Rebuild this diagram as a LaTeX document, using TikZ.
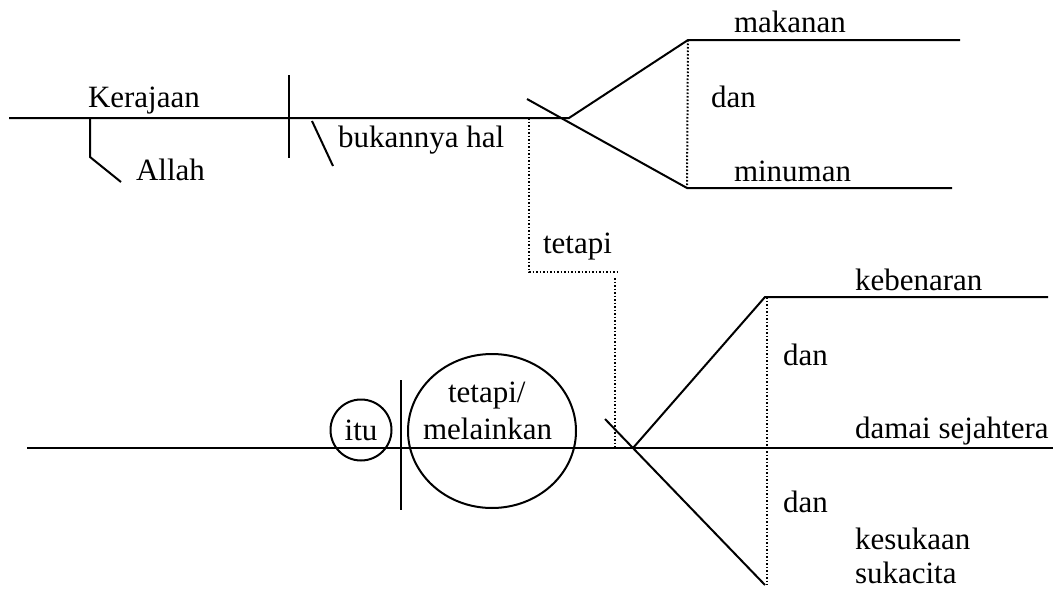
\documentclass[tikz,border=0pt]{standalone}
\usepackage{fontspec}
\setmainfont{Liberation Serif}
\usetikzlibrary{shapes.geometric}
\begin{document}
\begin{tikzpicture}[x=1pt,y=-1pt,line width=2pt,
  lbl/.style={font=\fontsize{31}{35}\selectfont, anchor=base west, inner sep=0pt},
  dotline/.style={line width=2pt, dash pattern=on 1.6pt off 1.9pt}]
\useasboundingbox (0,0) rectangle (1058,589);
% --- top clause ---
\coordinate (L1s) at (9,118);
\coordinate (J1) at (569,118);
\coordinate (U1) at (688,40);
\coordinate (U1e) at (960,40);
\coordinate (X1s) at (527,99);
\coordinate (D1) at (687,188);
\coordinate (D1e) at (952,188);
\coordinate (V1t) at (289,75);
\coordinate (V1b) at (289,158);
\coordinate (A1) at (90,118);
\coordinate (A2) at (90,157);
\coordinate (A3) at (121,182);
\coordinate (B1) at (312,121);
\coordinate (B2) at (333,166);
\draw (L1s) -- (J1) -- (U1) -- (U1e);
\draw (X1s) -- (D1) -- (D1e);
\draw[dotline] (U1) -- (D1);
\draw (V1t) -- (V1b);
\draw (A1) -- (A2) -- (A3);
\draw (B1) -- (B2);
\node[lbl] (kerajaan) at (87,107) {Kerajaan};
\node[lbl] (allah) at (135,180) {Allah};
\node[lbl] (bukan) at (337,147) {bukannya hal};
\node[lbl] (makanan) at (733,32) {makanan};
\node[lbl] (dan1) at (710,107) {dan};
\node[lbl] (minuman) at (733,181) {minuman};
% --- connector ---
\coordinate (T1) at (529,118);
\coordinate (T2) at (529,272);
\coordinate (T3) at (618,272);
\coordinate (T4) at (615,278);
\coordinate (T5) at (615,447);
\draw[dotline] (T1) -- (T2) -- (T3);
\draw[dotline] (T4) -- (T5);
\node[lbl] (tetapi) at (542,253) {tetapi};
% --- bottom clause ---
\coordinate (L2s) at (27,448);
\coordinate (L2e) at (1053,448);
\coordinate (J2) at (633,448);
\coordinate (U2) at (765,297);
\coordinate (U2e) at (1048,297);
\coordinate (X2s) at (605,419);
\coordinate (D2) at (765,585);
\coordinate (V2t) at (401,380);
\coordinate (V2b) at (401,510);
\coordinate (P1) at (767,297);
\coordinate (P2) at (767,585);
\draw (L2s) -- (L2e);
\draw (J2) -- (U2) -- (U2e);
\draw (X2s) -- (D2);
\draw[dotline] (P1) -- (P2);
\draw (V2t) -- (V2b);
\node[draw, circle, minimum size=61pt, inner sep=0pt, font=\fontsize{31}{35}\selectfont] (itu) at (361,430) {itu};
\node[draw, ellipse, minimum width=168pt, minimum height=154pt] (ell) at (492,431) {};
\node[lbl] (tetapi2) at (447,402) {tetapi/};
\node[lbl] (melainkan) at (422,439) {melainkan};
\node[lbl] (kebenaran) at (854,290) {kebenaran};
\node[lbl] (dan2) at (782,365) {dan};
\node[lbl] (damai) at (854,438) {damai sejahtera};
\node[lbl] (dan3) at (782,512) {dan};
\node[lbl] (kesukaan) at (854,549) {kesukaan};
\node[lbl] (sukacita) at (854,583) {sukacita};
\end{tikzpicture}
\end{document}
